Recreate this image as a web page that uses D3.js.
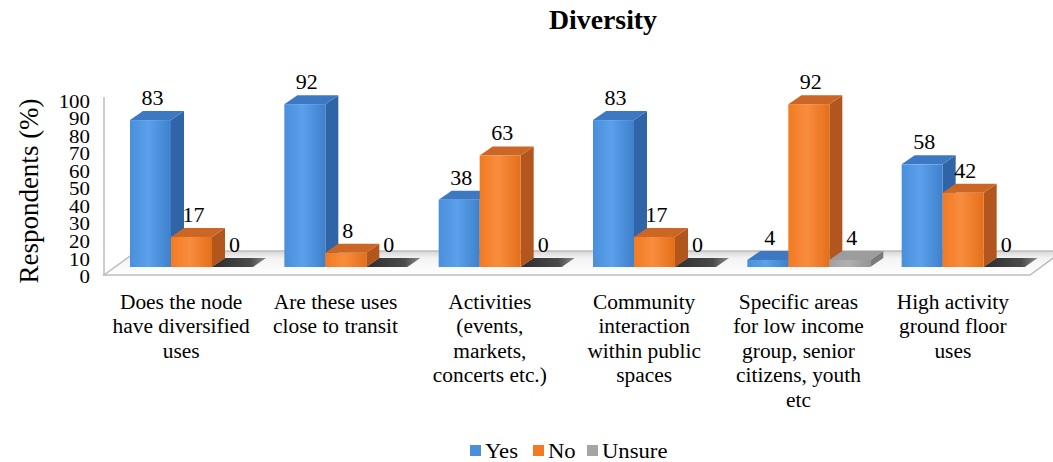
<!DOCTYPE html>
<html>
<head>
<meta charset="utf-8">
<script src="https://cdn.jsdelivr.net/npm/d3@7"></script>
<style>
  html, body { margin: 0; padding: 0; background: #ffffff; }
  svg { display: block; }
</style>
</head>
<body>
<svg id="chart" width="1053" height="462"></svg>
<script>
// ---- data ----
const categories = [
  "Does the node have diversified uses",
  "Are these uses close to transit",
  "Activities (events, markets, concerts etc.)",
  "Community interaction within public spaces",
  "Specific areas for low income group, senior citizens, youth etc",
  "High activity ground floor uses"
];
const categoryLines = [
  ["Does the node", "have diversified", "uses"],
  ["Are these uses", "close to transit"],
  ["Activities", "(events,", "markets,", "concerts etc.)"],
  ["Community", "interaction", "within public", "spaces"],
  ["Specific areas", "for low income", "group, senior", "citizens, youth", "etc"],
  ["High activity", "ground floor", "uses"]
];
const seriesNames = ["Yes", "No", "Unsure"];
const yesValues    = [83, 92, 38, 83, 4, 58];
const noValues     = [17, 8, 63, 17, 92, 42];
const unsureValues = [0, 0, 0, 0, 4, 0];
const yTicks = [0, 10, 20, 30, 40, 50, 60, 70, 80, 90, 100];

const seriesValues = [yesValues, noValues, unsureValues];

// ---- styling ----
const FONT = "'Liberation Serif', 'Times New Roman', serif";
const TEXT_STRETCH = 1.07;   // slightly widened glyphs
const palette = {
  Yes:    { front: ["#4a8fdb", "#5aa0ea", "#3f80cb"], side: "#2f65a6", top: "#3c79c2" },
  No:     { front: ["#f27a22", "#f88d3e", "#e56f1a"], side: "#b3561d", top: "#cc6624" },
  Unsure: { front: ["#a0a0a0", "#b0b0b0", "#959595"], side: "#7a7a7a", top: "#9c9c9c" }
};
const legendColors = { Yes: "#4a8fdb", No: "#f27a22", Unsure: "#a5a5a5" };

const svg = d3.select("#chart").attr("font-family", FONT).style("font-family", FONT);
const defs = svg.append("defs");

// text anchored at (x, y), widened horizontally around its anchor
function addText(parent, px, py, size, opts = {}) {
  const g = parent.append("g")
    .attr("transform", `translate(${px},${py}) scale(${opts.sx || TEXT_STRETCH},1)`);
  return g.append("text")
    .attr("font-family", FONT).style("font-family", FONT)
    .style("font-size", size + "px")
    .style("font-weight", opts.weight || "normal")
    .attr("text-anchor", opts.anchor || "start")
    .attr("fill", "#000");
}

// front-face gradients
seriesNames.forEach(s => {
  const g = defs.append("linearGradient").attr("id", "front-" + s)
    .attr("x1", "0%").attr("x2", "100%").attr("y1", "0%").attr("y2", "0%");
  const c = palette[s].front;
  g.append("stop").attr("offset", "0%").attr("stop-color", c[0]);
  g.append("stop").attr("offset", "45%").attr("stop-color", c[1]);
  g.append("stop").attr("offset", "100%").attr("stop-color", c[2]);
});
// top face of an empty bar
const zg = defs.append("linearGradient").attr("id", "zeroTop")
  .attr("x1", "0%").attr("x2", "100%").attr("y1", "0%").attr("y2", "0%");
zg.append("stop").attr("offset", "0%").attr("stop-color", "#2e2e2e");
zg.append("stop").attr("offset", "70%").attr("stop-color", "#4a4a4a");
zg.append("stop").attr("offset", "100%").attr("stop-color", "#8a8a8a");
// floor shading
const fg = defs.append("linearGradient").attr("id", "floorFill")
  .attr("x1", "0%").attr("x2", "0%").attr("y1", "0%").attr("y2", "100%");
fg.append("stop").attr("offset", "0%").attr("stop-color", "#d6d6d6");
fg.append("stop").attr("offset", "30%").attr("stop-color", "#f3f3f3");
fg.append("stop").attr("offset", "100%").attr("stop-color", "#ffffff");

// ---- geometry ----
const plotLeft = 104, plotRight = 1030;
const floorFrontY = 275;
const floorDepth = { dx: 33, dy: -24 };
const barDepth = { dx: 13, dy: -9 };

const x = d3.scaleBand().domain(categories).range([plotLeft, plotRight]).paddingInner(0);
const xSeries = d3.scaleBand().domain(seriesNames).range([26, 149]).paddingInner(0);
const yBar = d3.scaleLinear().domain([0, 100]).range([267, 90]);
const yAxisScale = d3.scaleLinear().domain([0, 100]).range([276.5, 101]);

// ---- title ----
addText(svg, 603, 29, 27, { weight: "bold", anchor: "middle", sx: 1.03 }).text("Diversity");

// ---- y axis title ----
svg.append("text")
  .attr("transform", "translate(38,191) rotate(-90)")
  .attr("text-anchor", "middle")
  .attr("font-family", FONT).style("font-family", FONT)
  .style("font-size", "27px")
  .text("Respondents (%)");

// ---- floor ----
const fl = [
  [plotLeft, floorFrontY],
  [plotRight, floorFrontY],
  [plotRight + floorDepth.dx, floorFrontY + floorDepth.dy],
  [plotLeft + floorDepth.dx, floorFrontY + floorDepth.dy]
];
svg.append("polygon")
  .attr("points", fl.map(p => p.join(",")).join(" "))
  .attr("fill", "url(#floorFill)")
  .attr("stroke", "#bdbdbd").attr("stroke-width", 1.5);

// left wall edge
svg.append("line")
  .attr("x1", plotLeft).attr("x2", plotLeft)
  .attr("y1", 97).attr("y2", floorFrontY)
  .attr("stroke", "#bdbdbd").attr("stroke-width", 1.5);

// ---- y tick labels ----
const yAxis = d3.axisLeft(yAxisScale).tickValues(yTicks).tickSize(0).tickPadding(0);
const gAxis = svg.append("g").attr("transform", "translate(90,0)").call(yAxis)
  .attr("font-family", FONT).attr("font-size", 19);
gAxis.select(".domain").remove();
gAxis.selectAll("text")
  .attr("font-family", FONT).style("font-family", FONT)
  .style("font-size", "19px")
  .attr("transform", "scale(1.1,1)")
  .attr("fill", "#000");

// ---- bars ----
const barsG = svg.append("g");
const bw = xSeries.bandwidth();
const yBase = yBar(0);
categories.forEach((cat, ci) => {
  seriesNames.forEach((s, si) => {
    const v = seriesValues[si][ci];
    const x0 = x(cat) + xSeries(s);
    const yTop = yBar(v);
    const g = barsG.append("g");
    const dx = barDepth.dx, dy = barDepth.dy;
    if (v > 0) {
      g.append("polygon")
        .attr("points", [[x0 + bw, yBase], [x0 + bw + dx, yBase + dy], [x0 + bw + dx, yTop + dy], [x0 + bw, yTop]].map(p => p.join(",")).join(" "))
        .attr("fill", palette[s].side);
    }
    g.append("polygon")
      .attr("points", [[x0, yTop], [x0 + bw, yTop], [x0 + bw + dx, yTop + dy], [x0 + dx, yTop + dy]].map(p => p.join(",")).join(" "))
      .attr("fill", v > 0 ? palette[s].top : "url(#zeroTop)");
    if (v > 0) {
      g.append("rect")
        .attr("x", x0).attr("y", yTop)
        .attr("width", bw).attr("height", yBase - yTop)
        .attr("fill", "url(#front-" + s + ")");
    }
  });
});

// ---- value labels ----
categories.forEach((cat, ci) => {
  seriesNames.forEach((s, si) => {
    const v = seriesValues[si][ci];
    const x0 = x(cat) + xSeries(s);
    addText(svg, x0 + bw / 2 + 2, yBar(v) + barDepth.dy - 6, 20, { anchor: "middle", sx: 1.1 })
      .text(v);
  });
});

// ---- category labels ----
categories.forEach((cat, ci) => {
  const t = addText(svg, x(cat) + x.bandwidth() / 2, 0, 20, { anchor: "middle" });
  categoryLines[ci].forEach((line, li) => {
    t.append("tspan")
      .attr("x", 0)
      .attr("y", 309 + li * 24.5)
      .text(line);
  });
});

// ---- legend ----
const legendItems = [
  { name: "Yes", x: 470 },
  { name: "No", x: 533 },
  { name: "Unsure", x: 587 }
];
const lg = svg.append("g");
legendItems.forEach(it => {
  lg.append("rect")
    .attr("x", it.x).attr("y", 445)
    .attr("width", 11).attr("height", 11)
    .attr("fill", legendColors[it.name]);
  addText(lg, it.x + 15, 458, 21, { sx: 1.08 }).text(it.name);
});
</script>
</body>
</html>
